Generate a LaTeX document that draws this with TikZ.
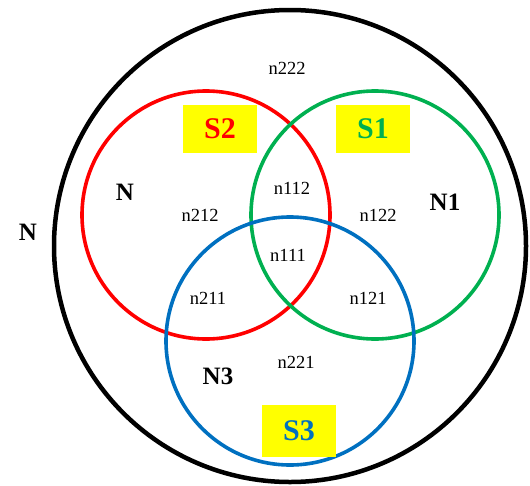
\documentclass[tikz,border=0pt]{standalone}
\usepackage{fontspec}
\setmainfont{Liberation Serif}
\usepackage{xcolor}
\usetikzlibrary{positioning}
\definecolor{setRed}{HTML}{FF0000}
\definecolor{setGreen}{HTML}{00B050}
\definecolor{setBlue}{HTML}{0070C0}
\definecolor{tagYellow}{HTML}{FFFF00}

\begin{document}
\begin{tikzpicture}[
x=1pt, y=-1pt,
every node/.style={inner sep=0pt, outer sep=0pt},
setC/.style={circle, draw, line width=3.6pt, minimum size=248pt},
tag/.style={fill=tagYellow, minimum width=74pt, minimum height=48pt, font=\fontsize{30}{32}\selectfont\bfseries},
cnt/.style={font=\fontsize{18.5}{20}\selectfont},
lbl/.style={font=\fontsize{25}{27}\selectfont\bfseries}
]
\useasboundingbox (0,0) rectangle (530,485);
% Universe and the three sets
\node[circle, draw=black, line width=4.5pt, minimum size=472pt] (U) at (290,246) {};
\node[setC, draw=setRed] (S2c) at (206,215) {};
\node[setC, draw=setGreen] (S1c) at (375,215) {};
\node[setC, draw=setBlue] (S3c) at (290,341) {};

% Yellow set tags
\node[tag, text=setRed] (S2) at (220,129) {S2};
\node[tag, text=setGreen] (S1) at (373,129) {S1};
\node[tag, text=setBlue, minimum height=52pt] (S3) at (299,431) {S3};

% Region counts
\node[cnt] (n222) at (287,68) {n222};
\node[cnt] (n212) at (200,215) {n212};
\node[cnt] (n112) at (292,188) {n112};
\node[cnt] (n122) at (378,215) {n122};
\node[cnt] (n111) at (288,255) {n111};
\node[cnt] (n211) at (208,298) {n211};
\node[cnt] (n121) at (368,298) {n121};
\node[cnt] (n221) at (296,362) {n221};

% Totals
\node[lbl] (N) at (28,232) {N};
\node[lbl] (N2) at (125,192) {N};
\node[lbl] (N1) at (445,202) {N1};
\node[lbl] (N3) at (218,376) {N3};
\end{tikzpicture}
\end{document}
